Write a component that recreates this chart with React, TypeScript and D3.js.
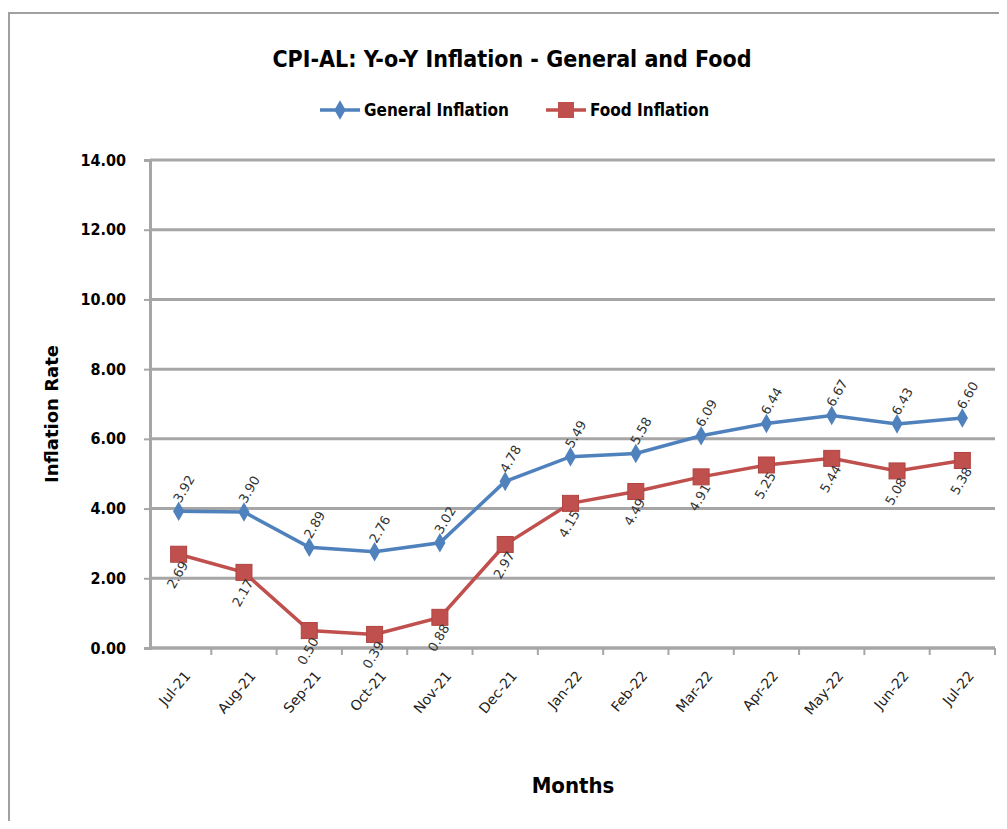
import { useEffect, useRef } from 'react';
import * as d3 from 'd3';

const months = ['Jul-21', 'Aug-21', 'Sep-21', 'Oct-21', 'Nov-21', 'Dec-21', 'Jan-22', 'Feb-22', 'Mar-22', 'Apr-22', 'May-22', 'Jun-22', 'Jul-22'];
const generalInflation = [3.92, 3.90, 2.89, 2.76, 3.02, 4.78, 5.49, 5.58, 6.09, 6.44, 6.67, 6.43, 6.60];
const foodInflation = [2.69, 2.17, 0.50, 0.39, 0.88, 2.97, 4.15, 4.49, 4.91, 5.25, 5.44, 5.08, 5.38];
const yTicks = [0, 2, 4, 6, 8, 10, 12, 14];

const W = 1007;
const H = 829;
const blue = '#4F81BD';
const red = '#C0504D';
const boldFont = 'DejaVu Sans Condensed, Liberation Sans Narrow, sans-serif';

const App = () => {
  const svgRef = useRef<SVGSVGElement>(null);

  useEffect(() => {
    const svg = d3.select(svgRef.current);
    svg.selectAll('*').remove();

    const left = 150;
    const right = 995;
    const top = 160;
    const bottom = 648;

    const x = d3.scaleBand<string>().domain(months).range([left - 4, right]);
    const y = d3.scaleLinear().domain([0, 14]).range([bottom, top]);
    const cx = (m: string) => x(m)! + x.bandwidth() / 2;

    // outer frame
    svg.append('rect').attr('x', 9).attr('y', 13).attr('width', W - 8).attr('height', H - 8)
      .attr('fill', 'white').attr('stroke', '#a0a0a0').attr('stroke-width', 2);

    // title
    svg.append('text').attr('x', 512).attr('y', 67).attr('text-anchor', 'middle')
      .attr('font-family', boldFont)
      .attr('font-weight', 'bold').attr('font-size', 23).attr('fill', '#000')
      .text('CPI-AL: Y-o-Y Inflation - General and Food');

    // grid
    svg.append('g').selectAll('line').data(yTicks).join('line')
      .attr('x1', left).attr('x2', right)
      .attr('y1', (d) => y(d)).attr('y2', (d) => y(d))
      .attr('stroke', '#a6a6a6').attr('stroke-width', 3);

    // y axis
    const yAxis = svg.append('g').attr('transform', `translate(${left},0)`)
      .call(d3.axisLeft(y).tickValues(yTicks).tickFormat(d3.format('.2f')).tickSize(6).tickPadding(18));
    yAxis.select('.domain').attr('stroke', '#a6a6a6').attr('stroke-width', 3);
    yAxis.selectAll('.tick line').attr('stroke', '#a6a6a6').attr('stroke-width', 2);
    yAxis.selectAll('text').attr('font-family', boldFont)
      .attr('font-weight', 'bold').attr('font-size', 16).attr('fill', '#000');

    // x axis
    const xAxis = svg.append('g').attr('transform', `translate(0,${bottom})`)
      .call(d3.axisBottom(x).tickSize(0).tickPadding(14));
    xAxis.select('.domain').remove();
    xAxis.selectAll('text')
      .attr('font-family', 'DejaVu Sans, sans-serif').attr('font-size', 14).attr('fill', '#222')
      .attr('text-anchor', 'end').attr('dy', '0.35em')
      .attr('transform', 'translate(-2,16) rotate(-50)');
    svg.append('line').attr('x1', left).attr('x2', right).attr('y1', bottom).attr('y2', bottom)
      .attr('stroke', '#a6a6a6').attr('stroke-width', 3);
    const bounds = months.slice(1).map((m) => x(m)!).concat([right]);
    svg.append('g').selectAll('line').data(bounds).join('line')
      .attr('x1', (d) => d).attr('x2', (d) => d).attr('y1', bottom).attr('y2', bottom + 7)
      .attr('stroke', '#a6a6a6').attr('stroke-width', 2);

    // axis titles
    svg.append('text').attr('transform', `translate(58,${(top + bottom) / 2 + 10}) rotate(-90)`)
      .attr('text-anchor', 'middle').attr('font-family', 'DejaVu Sans, sans-serif')
      .attr('font-weight', 'bold').attr('font-size', 18).text('Inflation Rate');
    svg.append('text').attr('x', 573).attr('y', 793).attr('text-anchor', 'middle')
      .attr('font-family', boldFont)
      .attr('font-weight', 'bold').attr('font-size', 22).text('Months');

    const line = d3.line<number>().x((_, i) => cx(months[i])).y((d) => y(d)).curve(d3.curveLinear);

    // food series
    svg.append('path').datum(foodInflation).attr('d', line).attr('fill', 'none')
      .attr('stroke', red).attr('stroke-width', 3.5);
    svg.append('g').selectAll('rect').data(foodInflation).join('rect')
      .attr('x', (_, i) => cx(months[i]) - 8).attr('y', (d) => y(d) - 8)
      .attr('width', 16).attr('height', 16).attr('fill', red).attr('stroke', '#b04440');

    // general series
    svg.append('path').datum(generalInflation).attr('d', line).attr('fill', 'none')
      .attr('stroke', blue).attr('stroke-width', 3.5);
    svg.append('g').selectAll('path').data(generalInflation).join('path')
      .attr('d', d3.symbol().type(d3.symbolDiamond).size(110))
      .attr('transform', (d, i) => `translate(${cx(months[i])},${y(d)})`)
      .attr('fill', blue);

    // data labels
    svg.append('g').selectAll('text').data(generalInflation).join('text')
      .attr('transform', (d, i) => `translate(${cx(months[i]) - 2},${y(d) - 10}) rotate(-60)`)
      .attr('text-anchor', 'start').attr('font-family', 'DejaVu Sans, sans-serif')
      .attr('font-size', 13).attr('fill', '#333').attr('dy', '0.35em')
      .text((d) => d.toFixed(2));
    svg.append('g').selectAll('text').data(foodInflation).join('text')
      .attr('transform', (d, i) => `translate(${cx(months[i]) + 6},${y(d) + 8}) rotate(-60)`)
      .attr('text-anchor', 'end').attr('font-family', 'DejaVu Sans, sans-serif')
      .attr('font-size', 13).attr('fill', '#333').attr('dy', '0.35em')
      .text((d) => d.toFixed(2));

    // legend
    const lg = svg.append('g').attr('font-family', boldFont)
      .attr('font-weight', 'bold').attr('font-size', 17);
    lg.append('line').attr('x1', 320).attr('x2', 360).attr('y1', 110).attr('y2', 110)
      .attr('stroke', blue).attr('stroke-width', 3.5);
    lg.append('path').attr('d', d3.symbol().type(d3.symbolDiamond).size(110)())
      .attr('transform', 'translate(340,110)').attr('fill', blue);
    lg.append('text').attr('x', 364).attr('y', 116).text('General Inflation');
    lg.append('line').attr('x1', 546).attr('x2', 586).attr('y1', 110).attr('y2', 110)
      .attr('stroke', red).attr('stroke-width', 3.5);
    lg.append('rect').attr('x', 558).attr('y', 102).attr('width', 16).attr('height', 16).attr('fill', red);
    lg.append('text').attr('x', 590).attr('y', 116).text('Food Inflation');
  }, []);

  return <svg ref={svgRef} width={W} height={H} style={{ display: 'block', margin: '-8px' }} />;
};

export default App;
